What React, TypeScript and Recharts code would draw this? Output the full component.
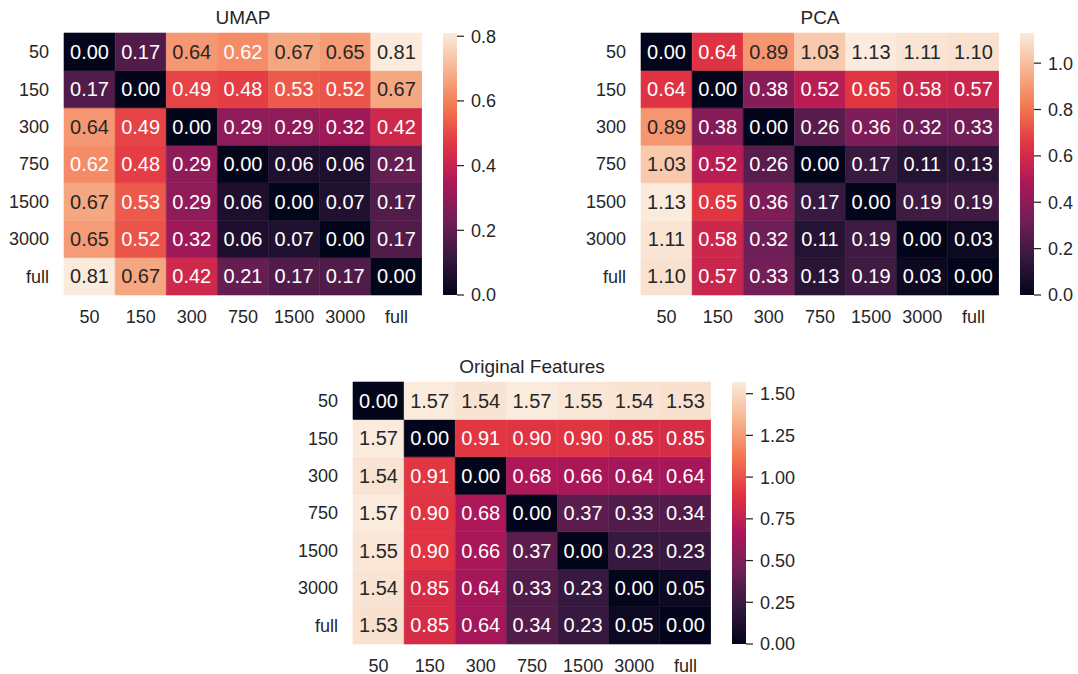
import React from 'react';
import { BarChart, Bar, Cell, XAxis, YAxis, LabelList } from 'recharts';

// axis labels shared by all three matrices
const sizes = ['50', '150', '300', '750', '1500', '3000', 'full'];

const umapValues = [
  [0.0, 0.17, 0.64, 0.62, 0.67, 0.65, 0.81],
  [0.17, 0.0, 0.49, 0.48, 0.53, 0.52, 0.67],
  [0.64, 0.49, 0.0, 0.29, 0.29, 0.32, 0.42],
  [0.62, 0.48, 0.29, 0.0, 0.06, 0.06, 0.21],
  [0.67, 0.53, 0.29, 0.06, 0.0, 0.07, 0.17],
  [0.65, 0.52, 0.32, 0.06, 0.07, 0.0, 0.17],
  [0.81, 0.67, 0.42, 0.21, 0.17, 0.17, 0.0],
];

const pcaValues = [
  [0.0, 0.64, 0.89, 1.03, 1.13, 1.11, 1.1],
  [0.64, 0.0, 0.38, 0.52, 0.65, 0.58, 0.57],
  [0.89, 0.38, 0.0, 0.26, 0.36, 0.32, 0.33],
  [1.03, 0.52, 0.26, 0.0, 0.17, 0.11, 0.13],
  [1.13, 0.65, 0.36, 0.17, 0.0, 0.19, 0.19],
  [1.11, 0.58, 0.32, 0.11, 0.19, 0.0, 0.03],
  [1.1, 0.57, 0.33, 0.13, 0.19, 0.03, 0.0],
];

const origValues = [
  [0.0, 1.57, 1.54, 1.57, 1.55, 1.54, 1.53],
  [1.57, 0.0, 0.91, 0.9, 0.9, 0.85, 0.85],
  [1.54, 0.91, 0.0, 0.68, 0.66, 0.64, 0.64],
  [1.57, 0.9, 0.68, 0.0, 0.37, 0.33, 0.34],
  [1.55, 0.9, 0.66, 0.37, 0.0, 0.23, 0.23],
  [1.54, 0.85, 0.64, 0.33, 0.23, 0.0, 0.05],
  [1.53, 0.85, 0.64, 0.34, 0.23, 0.05, 0.0],
];

const umapTicks = [0, 0.2, 0.4, 0.6, 0.8];
const pcaTicks = [0, 0.2, 0.4, 0.6, 0.8, 1.0];
const origTicks = [0, 0.25, 0.5, 0.75, 1.0, 1.25, 1.5];

const FONT = '"Liberation Sans", Arial, sans-serif';
const DARK = '#262626';

// seaborn "rocket" colormap, sampled
const rocketStops: Array<[number, string]> = [
  [0, '#03051a'],
  [1 / 7, '#35193e'],
  [2 / 7, '#701f57'],
  [3 / 7, '#ad1759'],
  [4 / 7, '#e13342'],
  [5 / 7, '#f37651'],
  [6 / 7, '#f6b48f'],
  [1, '#faebdd'],
];

const hexToRgb = (h: string) => [1, 3, 5].map(i => parseInt(h.slice(i, i + 2), 16));

const rocket = (t: number) => {
  const v = Math.max(0, Math.min(1, t));
  for (let i = 1; i < rocketStops.length; i++) {
    const [o1, c1] = rocketStops[i];
    const [o0, c0] = rocketStops[i - 1];
    if (v <= o1) {
      const f = (v - o0) / (o1 - o0);
      const a = hexToRgb(c0);
      const b = hexToRgb(c1);
      return a.map((x, k) => Math.round(x + (b[k] - x) * f));
    }
  }
  return hexToRgb('#faebdd');
};

const rgbStr = (c: number[]) => `rgb(${c[0]},${c[1]},${c[2]})`;

// same rule as seaborn annotations
const textColor = (c: number[]) => {
  const lin = c.map(x => {
    const s = x / 255;
    return s <= 0.03928 ? s / 12.92 : Math.pow((s + 0.055) / 1.055, 2.4);
  });
  const lum = 0.2126 * lin[0] + 0.7152 * lin[1] + 0.0722 * lin[2];
  return lum > 0.408 ? DARK : '#ffffff';
};

interface HeatmapProps {
  id: string;
  title: string;
  values: number[][];
  ticks: number[];
  tickDigits: number;
  left: number;
  top: number;
}

const Heatmap: React.FC<HeatmapProps> = ({ id, title, values, ticks, tickDigits, left, top }) => {
  const vmax = Math.max(...values.flat());
  const n = sizes.length;

  // one entry per column, rows stacked bottom-up
  const data = sizes.map((col, c) => {
    const d: { [key: string]: number | string } = { col };
    values.forEach((row, r) => {
      d[`r${r}`] = 1;
      d[`v${r}`] = row[c];
    });
    return d;
  });

  const annot = (props: any) => {
    const vb = props.viewBox || {};
    const x = props.x ?? vb.x;
    const y = props.y ?? vb.y;
    const w = props.width ?? vb.width;
    const h = props.height ?? vb.height;
    const v = Number(props.value);
    return (
      <text
        x={x + w / 2}
        y={y + h / 2}
        dy="0.36em"
        textAnchor="middle"
        fontSize={20}
        fontFamily={FONT}
        fill={textColor(rocket(v / vmax))}
      >
        {v.toFixed(2)}
      </text>
    );
  };

  const rowOrder = values.map((_, r) => n - 1 - r);

  return (
    <div style={{ position: 'absolute', left, top, width: 530, height: 340 }}>
      <div
        style={{
          position: 'absolute',
          left: 64,
          top: 7,
          width: 358,
          textAlign: 'center',
          fontFamily: FONT,
          fontSize: 19,
          color: DARK,
        }}
      >
        {title}
      </div>
      <div style={{ position: 'absolute', left: 0, top: 0 }}>
        <BarChart
          width={422}
          height={340}
          data={data}
          margin={{ top: 33, right: 0, left: 0, bottom: 0 }}
          barCategoryGap={0}
          barGap={0}
        >
          <XAxis
            dataKey="col"
            interval={0}
            axisLine={false}
            tickLine={false}
            tickSize={0}
            tickMargin={15}
            height={45}
            tick={{ fill: DARK, fontSize: 18, fontFamily: FONT }}
          />
          <YAxis
            type="number"
            domain={[0, n]}
            ticks={sizes.map((_, i) => i + 0.5)}
            tickFormatter={(v: number) => sizes[n - 1 - Math.floor(v)]}
            axisLine={false}
            tickLine={false}
            tickSize={0}
            tickMargin={15}
            width={64}
            tick={{ fill: DARK, fontSize: 18, fontFamily: FONT }}
          />
          {rowOrder.map(r => (
            <Bar key={r} dataKey={`r${r}`} stackId="s" isAnimationActive={false}>
              {sizes.map((_, c) => {
                const fill = rgbStr(rocket(values[r][c] / vmax));
                return <Cell key={c} fill={fill} stroke={fill} strokeWidth={0.6} />;
              })}
              <LabelList dataKey={`v${r}`} content={annot} />
            </Bar>
          ))}
        </BarChart>
      </div>
      <div style={{ position: 'absolute', left: 443, top: 0 }}>
        <BarChart
          width={80}
          height={340}
          data={[{ name: 'cb', v: vmax }]}
          margin={{ top: 33, right: 0, left: 0, bottom: 45 }}
          barCategoryGap={0}
        >
          <defs>
            <linearGradient id={`grad-${id}`} x1="0" y1="1" x2="0" y2="0">
              {rocketStops.map(([o, c]) => (
                <stop key={o} offset={o} stopColor={c} />
              ))}
            </linearGradient>
          </defs>
          <XAxis dataKey="name" hide />
          <YAxis
            orientation="right"
            type="number"
            domain={[0, vmax]}
            ticks={ticks}
            tickFormatter={(v: number) => v.toFixed(tickDigits)}
            axisLine={false}
            tickLine={{ stroke: DARK, strokeWidth: 1.25 }}
            tickSize={7}
            tickMargin={7}
            width={66}
            tick={{ fill: DARK, fontSize: 18, fontFamily: FONT }}
          />
          <Bar dataKey="v" fill={`url(#grad-${id})`} isAnimationActive={false} />
        </BarChart>
      </div>
    </div>
  );
};

export default function App() {
  return (
    <div style={{ position: 'absolute', left: 0, top: 0, width: 1078, height: 674, background: '#fff' }}>
      <Heatmap id="umap" title="UMAP" values={umapValues} ticks={umapTicks} tickDigits={1} left={0} top={0} />
      <Heatmap id="pca" title="PCA" values={pcaValues} ticks={pcaTicks} tickDigits={1} left={577} top={0} />
      <Heatmap id="orig" title="Original Features" values={origValues} ticks={origTicks} tickDigits={2} left={289} top={349} />
    </div>
  );
}
